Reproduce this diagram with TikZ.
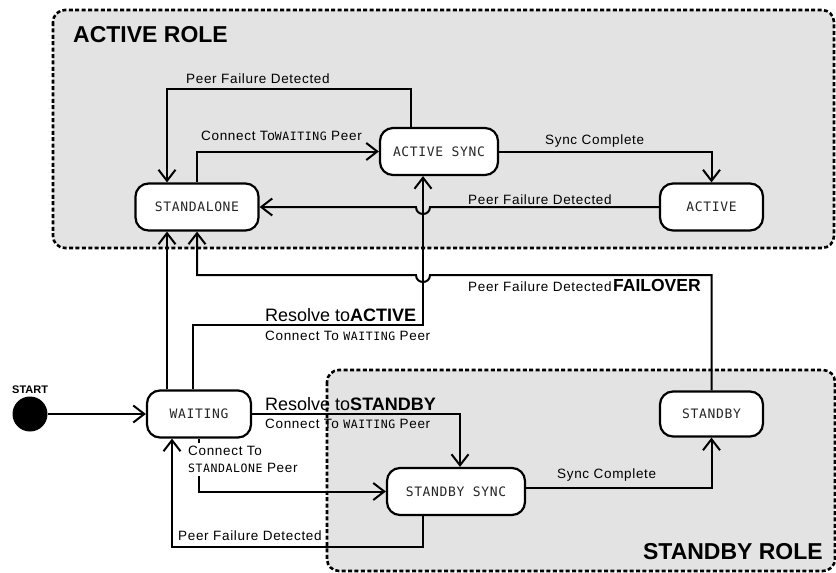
\documentclass[tikz,border=0pt]{standalone}
\usepackage{fontspec}
\setmainfont{Liberation Sans}
\newfontfamily\lblfont[LetterSpace=5]{Liberation Sans}
\newfontfamily\statefont[LetterSpace=5]{DejaVu Sans Mono}
\usetikzlibrary{arrows.meta}
\definecolor{rolegray}{RGB}{227,227,227}
\newcommand{\smallmono}[1]{{\statefont\fontsize{11.5}{13}\selectfont #1}}
\tikzset{
  rolebox/.style={draw, fill=rolegray, line width=2.6pt, dash pattern=on 4pt off 2.4pt, rounded corners=12pt},
  rolename/.style={inner sep=0pt, font=\bfseries\fontsize{23}{26}\selectfont},
  statebox/.style={draw, fill=white, line width=2.2pt, rounded corners=13pt, inner sep=0pt,
    minimum height=47pt, text=black!85, font=\statefont\fontsize{13}{15}\selectfont},
  arr/.style={line width=2pt, -{Straight Barb[length=11pt,width=17pt]}},
  lbl/.style={anchor=base west, inner sep=0pt, font=\lblfont\fontsize{13.5}{17}\selectfont},
  biglbl/.style={anchor=base west, inner sep=0pt, font=\fontsize{18}{20}\selectfont},
}
\begin{document}
\begin{tikzpicture}[x=1pt,y=-1pt]
\useasboundingbox (0,0) rectangle (836,573);

% role regions
\draw[rolebox] (53,10) rectangle (834,248);
\draw[rolebox] (327,370) rectangle (835,571);
\node[rolename, anchor=base west] (activerole) at (73,42) {ACTIVE ROLE};
\node[rolename, anchor=base east] (standbyrole) at (823,559) {STANDBY ROLE};

% states
\node[statebox, minimum width=123pt] (sa) at (197,207) {STANDALONE};
\node[statebox, minimum width=118pt] (as) at (439,151.5) {ACTIVE SYNC};
\node[statebox, minimum width=103pt] (ac) at (711.5,207) {ACTIVE};
\node[statebox, minimum width=104pt] (wt) at (199,414) {WAITING};
\node[statebox, minimum width=138pt] (ss) at (456,491.5) {STANDBY SYNC};
\node[statebox, minimum width=103pt, minimum height=45pt] (sb) at (711.5,414) {STANDBY};
\node[circle, fill=black, minimum size=35pt, inner sep=0pt] (start) at (30,414) {};
\node[anchor=base west, inner sep=0pt, font=\bfseries\fontsize{11}{12}\selectfont] (startlbl) at (12,393) {START};

% transitions
\coordinate (k1) at (167,89);
\draw[arr] ([xshift=-28pt]as.north) |- (k1) -- ([xshift=-30pt]sa.north);
\draw[arr] (sa.north) |- (as.west);
\draw[arr] (as.east) -| (ac.north);
\draw[arr] (ac.west) -- (430,207) .. controls (430,216.3) and (416,216.3) .. (416,207) -- (sa.east);
\draw[arr] ([xshift=-6pt]wt.north) |- (423,325) -- ([xshift=-16pt]as.south);
\draw[arr] (sb.north) |- (430,275) .. controls (430,284.3) and (416,284.3) .. (416,275) -| (sa.south);
\draw[arr] ([xshift=-32pt]wt.north) -- ([xshift=-30pt]sa.south);
\draw[arr] (start) -- (wt.west);
\draw[arr] (wt.east) -| ([xshift=4pt]ss.north);
\draw[arr] (wt.south) |- (ss.west);
\draw[arr] ([xshift=-33pt]ss.south) -- (423,547) -| ([xshift=-27pt]wt.south);
\draw[arr] ([yshift=3.5pt]ss.east) -| (sb.south);

% transition labels
\node[lbl] (l1) at (186,83) {Peer Failure Detected};
\node[lbl] (l2) at (201,140) {Connect To\smallmono{WAITING} Peer};
\node[lbl] (l3) at (545,144) {Sync Complete};
\node[lbl] (l4) at (468,204) {Peer Failure Detected};
\node[lbl] (l5) at (468,291) {Peer Failure Detected};
\node[anchor=base west, inner sep=0pt, font=\bfseries\fontsize{17.5}{20}\selectfont] (l6) at (613,291) {FAILOVER};
\node[biglbl] (l7) at (265,321) {Resolve to\textbf{ACTIVE}};
\node[lbl] (l8) at (265,340) {Connect To \smallmono{WAITING} Peer};
\node[biglbl] (l9) at (265,410) {Resolve to\textbf{STANDBY}};
\node[lbl] (l10) at (265,428) {Connect To \smallmono{WAITING} Peer};
\node[lbl, anchor=north west, fill=white, align=left, inner ysep=3pt, inner xsep=1pt] (l11) at (187,443) {Connect To\\\smallmono{STANDALONE} Peer};
\node[lbl] (l12) at (557,478) {Sync Complete};
\node[lbl] (l13) at (178,540) {Peer Failure Detected};
\end{tikzpicture}
\end{document}
